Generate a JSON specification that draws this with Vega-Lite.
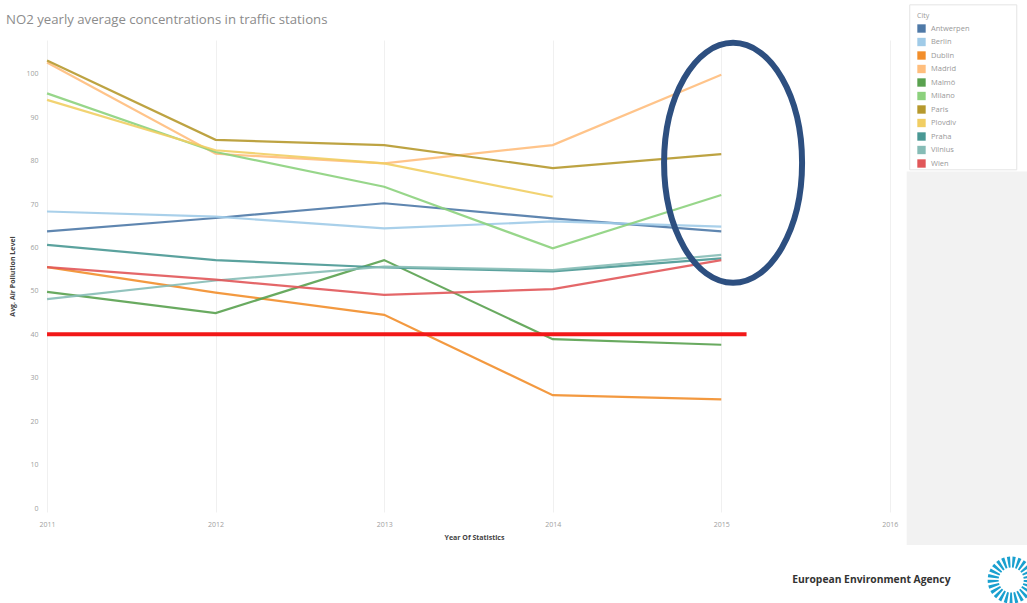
{
  "$schema": "https://vega.github.io/schema/vega-lite/v6.json",
  "width": 862,
  "height": 472,
  "autosize": {"type": "none"},
  "padding": {"left": 43, "top": 40, "right": 122, "bottom": 91},
  "background": "white",
  "config": {
    "view": {"stroke": null},
    "font": "Open Sans",
    "axis": {"domain": false, "ticks": false, "labelColor": "#a0a0a0", "labelFontSize": 7, "titleColor": "#444", "titleFontSize": 7, "titleFontWeight": "bold"}
  },
  "title": {"text": "NO2 yearly average concentrations in traffic stations", "anchor": "start", "frame": "group", "dx": -37, "dy": 35, "offset": 12, "fontSize": 13.2, "fontWeight": "normal", "color": "#8c8c8c", "font": "Open Sans"},
  "datasets": {
    "no2": [
      {"city": "Antwerpen", "year": 2011, "value": 63.7}, {"city": "Antwerpen", "year": 2012, "value": 66.8}, {"city": "Antwerpen", "year": 2013, "value": 70.2}, {"city": "Antwerpen", "year": 2014, "value": 66.7}, {"city": "Antwerpen", "year": 2015, "value": 63.7},
      {"city": "Berlin", "year": 2011, "value": 68.3}, {"city": "Berlin", "year": 2012, "value": 67.1}, {"city": "Berlin", "year": 2013, "value": 64.4}, {"city": "Berlin", "year": 2014, "value": 66.0}, {"city": "Berlin", "year": 2015, "value": 64.8},
      {"city": "Dublin", "year": 2011, "value": 55.5}, {"city": "Dublin", "year": 2012, "value": 49.6}, {"city": "Dublin", "year": 2013, "value": 44.5}, {"city": "Dublin", "year": 2014, "value": 26.0}, {"city": "Dublin", "year": 2015, "value": 25.0},
      {"city": "Madrid", "year": 2011, "value": 102.6}, {"city": "Madrid", "year": 2012, "value": 81.6}, {"city": "Madrid", "year": 2013, "value": 79.4}, {"city": "Madrid", "year": 2014, "value": 83.6}, {"city": "Madrid", "year": 2015, "value": 99.8},
      {"city": "Malmö", "year": 2011, "value": 49.8}, {"city": "Malmö", "year": 2012, "value": 44.9}, {"city": "Malmö", "year": 2013, "value": 57.1}, {"city": "Malmö", "year": 2014, "value": 38.9}, {"city": "Malmö", "year": 2015, "value": 37.6},
      {"city": "Milano", "year": 2011, "value": 95.5}, {"city": "Milano", "year": 2012, "value": 82.0}, {"city": "Milano", "year": 2013, "value": 74.0}, {"city": "Milano", "year": 2014, "value": 59.8}, {"city": "Milano", "year": 2015, "value": 72.1},
      {"city": "Paris", "year": 2011, "value": 103.1}, {"city": "Paris", "year": 2012, "value": 84.8}, {"city": "Paris", "year": 2013, "value": 83.6}, {"city": "Paris", "year": 2014, "value": 78.3}, {"city": "Paris", "year": 2015, "value": 81.5},
      {"city": "Plovdiv", "year": 2011, "value": 94.0}, {"city": "Plovdiv", "year": 2012, "value": 82.4}, {"city": "Plovdiv", "year": 2013, "value": 79.4}, {"city": "Plovdiv", "year": 2014, "value": 71.7},
      {"city": "Praha", "year": 2011, "value": 60.6}, {"city": "Praha", "year": 2012, "value": 57.1}, {"city": "Praha", "year": 2013, "value": 55.4}, {"city": "Praha", "year": 2014, "value": 54.5}, {"city": "Praha", "year": 2015, "value": 57.5},
      {"city": "Vilnius", "year": 2011, "value": 48.1}, {"city": "Vilnius", "year": 2012, "value": 52.4}, {"city": "Vilnius", "year": 2013, "value": 55.6}, {"city": "Vilnius", "year": 2014, "value": 54.8}, {"city": "Vilnius", "year": 2015, "value": 58.3},
      {"city": "Wien", "year": 2011, "value": 55.5}, {"city": "Wien", "year": 2012, "value": 52.6}, {"city": "Wien", "year": 2013, "value": 49.1}, {"city": "Wien", "year": 2014, "value": 50.4}, {"city": "Wien", "year": 2015, "value": 57.1}
    ]
  },
  "layer": [
    {
      "data": {"values": [{"x": 2016.1, "x2": 2016.9, "y": -8.5, "y2": 77.5}]},
      "mark": {"type": "rect", "color": "#f2f2f2"},
      "encoding": {
        "x": {"field": "x", "type": "quantitative", "scale": {"domain": [2010.976, 2016.09], "nice": false, "zero": false}},
        "x2": {"field": "x2"},
        "y": {"field": "y", "type": "quantitative", "scale": {"domain": [-0.92, 107.8], "nice": false, "zero": false}},
        "y2": {"field": "y2"}
      }
    },
    {
      "data": {"values": [{"x": 2016.118, "x2": 2016.753, "y": 115.9, "y2": 77.9}]},
      "mark": {"type": "rect", "fill": "white", "stroke": "#e4e4e4", "strokeWidth": 1},
      "encoding": {
        "x": {"field": "x", "type": "quantitative"},
        "x2": {"field": "x2"},
        "y": {"field": "y", "type": "quantitative"},
        "y2": {"field": "y2"}
      }
    },
    {
      "data": {"name": "no2"},
      "mark": {"type": "line", "strokeWidth": 2.2, "opacity": 0.9},
      "encoding": {
        "x": {"field": "year", "type": "quantitative", "scale": {"domain": [2010.976, 2016.09], "nice": false, "zero": false},
              "axis": {"title": "Year Of Statistics", "values": [2011, 2012, 2013, 2014, 2015, 2016], "format": "d", "grid": true, "gridColor": "#f0f0f0", "labelPadding": 8, "titlePadding": 6}},
        "y": {"field": "value", "type": "quantitative", "scale": {"domain": [-0.92, 107.8], "nice": false, "zero": false},
              "axis": {"title": "Avg. Air Pollution Level", "values": [0, 10, 20, 30, 40, 50, 60, 70, 80, 90, 100], "grid": false, "labelPadding": 5, "titlePadding": 10}},
        "color": {"field": "city", "type": "nominal", "title": "City",
                  "scale": {"domain": ["Antwerpen", "Berlin", "Dublin", "Madrid", "Malmö", "Milano", "Paris", "Plovdiv", "Praha", "Vilnius", "Wien"],
                            "range": ["#4e79a7", "#a0cbe8", "#f28e2b", "#ffbe7d", "#59a14f", "#8cd17d", "#b6992d", "#f1ce63", "#499894", "#86bcb6", "#e15759"]},
                  "legend": {"orient": "none", "legendX": 868, "legendY": -34, "symbolType": "square", "symbolSize": 70, "symbolOpacity": 1,
                             "labelFontSize": 7.5, "labelColor": "#999", "titleFontSize": 7, "titleColor": "#999", "titleFontWeight": "normal",
                             "rowPadding": 4.5, "padding": 6, "labelOffset": 5,
                             "encode": {"symbols": {"update": {"fill": {"scale": "color", "field": "value"}, "stroke": {"value": "transparent"}, "strokeWidth": {"value": 0}}}}}}
      }
    },
    {
      "data": {"values": [{"x": 2011, "x2": 2015.15, "y": 40}]},
      "mark": {"type": "rule", "color": "#f21818", "strokeWidth": 4},
      "encoding": {
        "x": {"field": "x", "type": "quantitative"},
        "x2": {"field": "x2"},
        "y": {"field": "y", "type": "quantitative"}
      }
    },
    {
      "data": {"values": [{"x": 2015.07, "y": 79.5}]},
      "mark": {"type": "point", "shape": "M0,-1 A0.575,1 0 1,1 0,1 A0.575,1 0 1,1 0,-1 Z", "size": 57600, "filled": false, "stroke": "#2d4f80", "strokeWidth": 6, "opacity": 1},
      "encoding": {
        "x": {"field": "x", "type": "quantitative"},
        "y": {"field": "y", "type": "quantitative"}
      }
    },
    {
      "data": {"values": [{"x": 2016.36, "y": -16.6, "label": "European Environment Agency"}]},
      "mark": {"type": "text", "align": "right", "baseline": "middle", "font": "Open Sans", "fontSize": 10.3, "fontWeight": "bold", "color": "#333"},
      "encoding": {
        "x": {"field": "x", "type": "quantitative"},
        "y": {"field": "y", "type": "quantitative"},
        "text": {"field": "label"}
      }
    },
    {
      "data": {"values": [{"x": 2016.72, "y": -16.6}]},
      "mark": {"type": "point", "shape": "circle", "size": 1300, "filled": false, "stroke": "#1aa0cf", "strokeWidth": 11, "strokeDash": [2.5, 2], "opacity": 1},
      "encoding": {
        "x": {"field": "x", "type": "quantitative"},
        "y": {"field": "y", "type": "quantitative"}
      }
    }
  ]
}
